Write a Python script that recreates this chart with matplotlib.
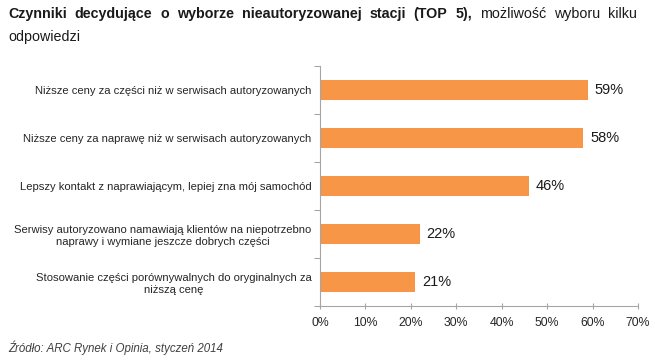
import matplotlib.pyplot as plt
from matplotlib.ticker import FuncFormatter

plt.rcParams['font.family'] = ['Liberation Sans', 'DejaVu Sans']

# data
categories = [
    'Niższe ceny za części niż w serwisach autoryzowanych',
    'Niższe ceny za naprawę niż w serwisach autoryzowanych',
    'Lepszy kontakt z naprawiającym, lepiej zna mój samochód',
    'Serwisy autoryzowano namawiają klientów na niepotrzebno\nnaprawy i wymiane jeszcze dobrych części',
    'Stosowanie części porównywalnych do oryginalnych za\nniższą cenę',
]
values = [59, 58, 46, 22, 21]
x_ticks = [0, 10, 20, 30, 40, 50, 60, 70]

orange = '#F79646'
grey = '#A6A6A6'

fig = plt.figure(figsize=(6.55, 3.6), dpi=100)
ax = fig.add_axes([0.4885, 0.15, 0.4855, 0.667])

ypos = list(range(len(values)))
ax.barh(ypos, values, height=0.42, color=orange)
ax.set_ylim(len(values) - 0.5, -0.5)
ax.set_xlim(0, 70)

ax.set_yticks([y + 0.5 for y in [-1] + ypos])
ax.set_yticklabels([])
ax.set_yticks(ypos, minor=True)
ax.set_yticklabels(categories, minor=True, fontsize=8.1, color='#262626',
                   ha='right', multialignment='center')
ax.tick_params(axis='y', which='minor', length=0, pad=6)
ax.tick_params(axis='y', which='major', length=4, direction='out', color=grey)

ax.set_xticks(x_ticks)
ax.xaxis.set_major_formatter(FuncFormatter(lambda v, p: f'{v:.0f}%'))
ax.tick_params(axis='x', length=4, direction='inout', color=grey,
               labelsize=8.8, labelcolor='#262626', pad=6)

for s in ['top', 'right']:
    ax.spines[s].set_visible(False)
for s in ['left', 'bottom']:
    ax.spines[s].set_color(grey)
    ax.spines[s].set_linewidth(0.8)

for y, v in zip(ypos, values):
    ax.text(v + 1.5, y, f'{v}%', va='center', ha='left', fontsize=10.5, color='#1a1a1a')

# title, justified first line
words = [('Czynniki', 'bold'), ('decydujące', 'bold'), ('o', 'bold'), ('wyborze', 'bold'),
         ('nieautoryzowanej', 'bold'), ('stacji', 'bold'), ('(TOP', 'bold'), ('5),', 'bold'),
         ('możliwość', 'normal'), ('wyboru', 'normal'), ('kilku', 'normal')]
left, right, ty = 8, 637, 360 - 14
fig.canvas.draw()
renderer = fig.canvas.get_renderer()
texts = []
widths = []
for w, fw in words:
    t = fig.text(0, 0, w, fontsize=10.3, fontweight=fw, color='#1a1a1a',
                 va='center', ha='left', transform=None)
    bb = t.get_window_extent(renderer)
    texts.append(t)
    widths.append(bb.width)
gap = (right - left - sum(widths)) / (len(words) - 1)
x = left
for t, wd in zip(texts, widths):
    t.set_position((x, ty))
    x += wd + gap
fig.text(8 / 655, 1 - 37 / 360, 'odpowiedzi', fontsize=10.3, color='#1a1a1a', va='center')

fig.text(8 / 655, 1 - 348 / 360, 'Źródło: ARC Rynek i Opinia, styczeń 2014',
         fontsize=8.3, style='italic', color='#404040', va='center')

fig.savefig('out.png', dpi=100)
